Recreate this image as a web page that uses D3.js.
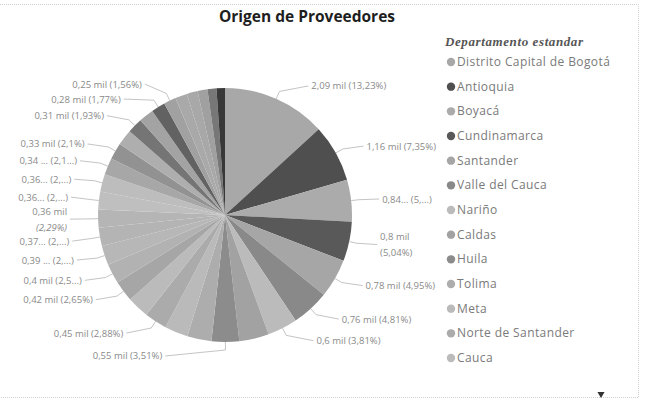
<!DOCTYPE html>
<html>
<head>
<meta charset="utf-8">
<script src="https://cdn.jsdelivr.net/npm/d3@7"></script>
<style>
  body { margin: 0; background: #fff; }
  svg { font-family: "Open Sans", "Noto Sans", sans-serif; }
</style>
</head>
<body>
<svg id="chart" width="645" height="409"></svg>
<script>
// departamentos (orden de la leyenda / de las porciones)
var departamentos = [
  'Distrito Capital de Bogotá', 'Antioquia', 'Boyacá', 'Cundinamarca', 'Santander',
  'Valle del Cauca', 'Nariño', 'Caldas', 'Huila', 'Tolima', 'Meta', 'Norte de Santander',
  'Cauca', 'Risaralda', 'Atlántico', 'Bolívar', 'Quindío', 'Córdoba', 'Cesar', 'Magdalena',
  'Sucre', 'Casanare', 'Caquetá', 'Putumayo', 'La Guajira', 'Arauca', 'Chocó', 'Amazonas',
  'Guaviare', 'San Andrés', 'Vichada', 'Guainía'
];

// proveedores, en miles
var valores = [
  2.090, 1.161, 0.840, 0.796, 0.782, 0.760, 0.602, 0.598, 0.555, 0.490, 0.470, 0.455,
  0.440, 0.419, 0.400, 0.390, 0.370, 0.362, 0.360, 0.356, 0.340, 0.332, 0.320, 0.305,
  0.300, 0.280, 0.246, 0.240, 0.220, 0.200, 0.180, 0.170
];

// etiquetas tal como se ven (null = sin etiqueta)
var etiquetas = [
  '2,09 mil (13,23%)', '1,16 mil (7,35%)', '0,84... (5,...)', '0,8 mil\n(5,04%)',
  '0,78 mil (4,95%)', '0,76 mil (4,81%)', '0,6 mil (3,81%)', null, '0,55 mil (3,51%)',
  null, null, '0,45 mil (2,88%)', null, '0,42 mil (2,65%)', '0,4 mil (2,5...)',
  '0,39 ... (2,...)', '0,37... (2,...)', '0,36 mil\n(2,29%)', '0,36... (2,...)',
  '0,36... (2,...)', '0,34 ... (2,1...)', '0,33 mil (2,1%)', null, '0,31 mil (1,93%)',
  null, '0,28 mil (1,77%)', '0,25 mil (1,56%)', null, null, null, null, null
];

var legendaVisible = 13;

// paleta por defecto (la captura esta en escala de grises)
var paleta = ['#118DFF', '#12239E', '#E66C37', '#6B007B', '#E044A7', '#744EC2', '#D9B300',
  '#D64550', '#197278', '#1AAB40', '#15C6F4', '#4092FF', '#FFA058', '#BE5DC9', '#F472D0',
  '#B5A1FF', '#C4A200', '#FF8080', '#00DBBC', '#5BD667', '#0091D5', '#4668C5', '#FF6300',
  '#99008A', '#EC008C', '#533285', '#99700A', '#FF4141', '#1F9A85', '#25891C', '#0057A2',
  '#002050'];

// foto con poco contraste: los claros se agrupan en grises medios
function gris(c) {
  var l = d3.lab(c).l;
  var l2 = l < 50 ? 34 + (l - 22) * 1.14 : 66 + (l - 50) * 0.4;
  return d3.lab(l2, 0, 0).formatHex();
}

var svg = d3.select('#chart');

// borde de la tarjeta
svg.append('path')
  .attr('d', 'M0,4.5H638.5V397.5H0')
  .attr('fill', 'none')
  .attr('stroke', '#cfcfcf')
  .attr('stroke-dasharray', '1,1');

// titulo
svg.append('text')
  .attr('x', 307)
  .attr('y', 22)
  .attr('text-anchor', 'middle')
  .style('font-size', '15.5px')
  .style('font-weight', 'bold')
  .style('fill', '#1e1e1e')
  .text('Origen de Proveedores');

var data = departamentos.map(function(d, i) {
  return { name: d, v: valores[i], lab: etiquetas[i] };
});

var color = d3.scaleOrdinal()
  .domain(departamentos)
  .range(paleta.map(gris));

var cx = 225, cy = 215, r = 127;

var pie = d3.pie().sort(null).value(function(d) { return d.v; });
var arc = d3.arc().innerRadius(0).outerRadius(r);
var arcs = pie(data);

var g = svg.append('g').attr('transform', 'translate(' + cx + ',' + cy + ')');

g.selectAll('path.slice')
  .data(arcs)
  .enter()
  .append('path')
  .attr('class', 'slice')
  .attr('d', arc)
  .attr('fill', function(d) { return color(d.data.name); });

// etiquetas con lineas guia
var lineH = 14;
var labs = arcs.filter(function(d) { return d.data.lab; }).map(function(d) {
  var a = (d.startAngle + d.endAngle) / 2;
  var lines = d.data.lab.split('\n');
  return {
    a: a,
    lines: lines,
    left: a > Math.PI * 0.99,
    y: -(r + 14) * Math.cos(a),
    h: lines.length * lineH
  };
});

[true, false].forEach(function(side) {
  var s = labs.filter(function(l) { return l.left === side; })
    .sort(function(a, b) { return a.y - b.y; });
  for (var it = 0; it < 80; it++) {
    for (var i = 1; i < s.length; i++) {
      var ov = (s[i - 1].y + s[i - 1].h / 2 + 1) - (s[i].y - s[i].h / 2);
      if (ov > 0) {
        s[i - 1].y -= ov / 2;
        s[i].y += ov / 2;
      }
    }
  }
});

var R = 152;
labs.forEach(function(l) {
  var dx = Math.sqrt(Math.max(0, R * R - l.y * l.y));
  dx = Math.max(dx, Math.abs((r + 8) * Math.sin(l.a)) + 8);
  l.x = l.left ? -dx - 6 : dx + 6;
  l.p0 = [r * Math.sin(l.a), -r * Math.cos(l.a)];
  l.p1 = [(r + 8) * Math.sin(l.a), -(r + 8) * Math.cos(l.a)];
  l.p2 = [l.left ? l.x + 3 : l.x - 3, l.y];
});

g.selectAll('polyline.guia')
  .data(labs)
  .enter()
  .append('polyline')
  .attr('class', 'guia')
  .attr('points', function(d) { return [d.p0, d.p1, d.p2].join(' '); })
  .attr('fill', 'none')
  .attr('stroke', '#b5b5b5')
  .attr('stroke-width', 0.8);

var t = g.selectAll('text.etq')
  .data(labs)
  .enter()
  .append('text')
  .attr('class', 'etq')
  .attr('text-anchor', function(d) { return d.left ? 'end' : 'start'; })
  .style('font-size', '9.5px')
  .style('fill', '#8a8a8a');

t.each(function(d) {
  var el = d3.select(this);
  var y0 = d.y - (d.lines.length - 1) * 8 + 3.5;
  d.lines.forEach(function(s, k) {
    el.append('tspan')
      .attr('x', d.x)
      .attr('y', y0 + k * 16)
      .style('font-style', k > 0 && d.left ? 'italic' : null)
      .text(s);
  });
});

// leyenda
var leg = svg.append('g').attr('transform', 'translate(445,0)');
leg.append('text')
  .attr('x', 0)
  .attr('y', 46)
  .style('font-family', '"Liberation Serif", "DejaVu Serif", serif')
  .style('font-style', 'italic')
  .style('font-weight', 'bold')
  .style('font-size', '13px')
  .style('letter-spacing', '0.6px')
  .style('fill', '#555')
  .text('Departamento estandar');

var ly = d3.scalePoint()
  .domain(departamentos.slice(0, legendaVisible))
  .range([62, 358]);

var items = leg.selectAll('g.item')
  .data(departamentos.slice(0, legendaVisible))
  .enter()
  .append('g')
  .attr('class', 'item')
  .attr('transform', function(d) { return 'translate(0,' + ly(d) + ')'; });

items.append('circle')
  .attr('cx', 6)
  .attr('cy', 0)
  .attr('r', 4.2)
  .attr('fill', function(d) { return color(d); });

items.append('text')
  .attr('x', 12)
  .attr('y', 4)
  .style('font-size', '12px')
  .style('letter-spacing', '0.4px')
  .style('fill', '#7a7a7a')
  .text(function(d) { return d; });

// flecha de desplazamiento
svg.append('path')
  .attr('d', d3.symbol().type(d3.symbolTriangle).size(22)())
  .attr('transform', 'translate(601,394) rotate(180)')
  .attr('fill', '#333');
</script>
</body>
</html>
